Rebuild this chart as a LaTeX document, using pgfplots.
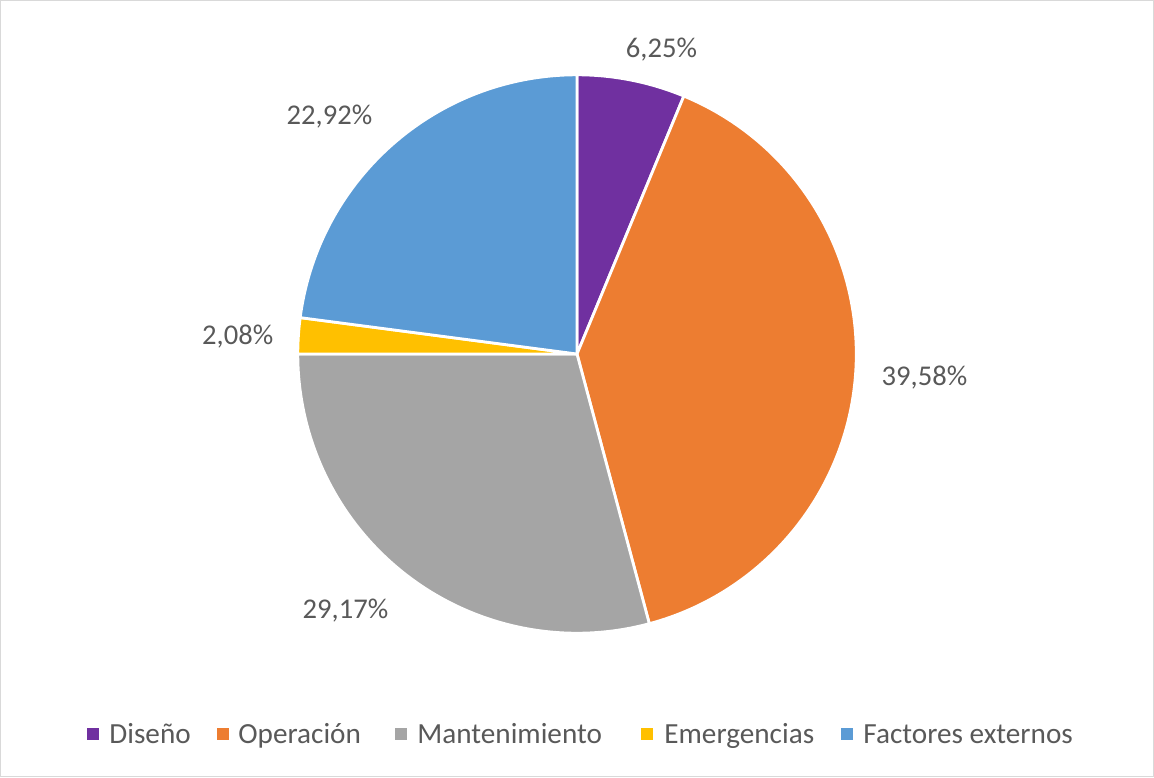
\documentclass[border=0pt]{standalone}
\usepackage{pgfplots}
\pgfplotsset{compat=1.18}
\usepackage{pgfplotstable}
\usepackage{fontspec}
\setmainfont{Carlito}
\definecolor{cDis}{HTML}{7030A0}
\definecolor{cOpe}{HTML}{ED7D31}
\definecolor{cMan}{HTML}{A5A5A5}
\definecolor{cEme}{HTML}{FFC000}
\definecolor{cFac}{HTML}{5B9BD5}
\definecolor{txt}{HTML}{595959}
\definecolor{framec}{HTML}{D9D9D9}

\pgfplotstableread[col sep=comma]{
name,value,color,lx,ly,label
Diseño,6.25,cDis,661.5,57,{6,25\%}
Operación,39.58,cOpe,924.5,385.7,{39,58\%}
Mantenimiento,29.17,cMan,345.5,618.3,{29,17\%}
Emergencias,2.08,cEme,237.7,344.3,{2,08\%}
Factores externos,22.92,cFac,329.5,124.3,{22,92\%}
}\piedata

\begin{document}
\begin{tikzpicture}
\begin{axis}[scale only axis, width=577pt, height=388.5pt,
  xmin=0, xmax=1154, ymin=0, ymax=777, y dir=reverse,
  hide axis, clip=false]
\addplot[draw=none, forget plot] coordinates {(0,0) (1154,777)};
\draw[framec, line width=0.6pt] (axis cs:0.6,0.6) rectangle (axis cs:1153.4,776.4);
\pgfmathsetmacro\angstart{90}
\foreach \i in {0,...,4} {
  \pgfplotstablegetelem{\i}{value}\of\piedata \let\val\pgfplotsretval
  \pgfplotstablegetelem{\i}{color}\of\piedata \let\col\pgfplotsretval
  \pgfplotstablegetelem{\i}{lx}\of\piedata \let\lx\pgfplotsretval
  \pgfplotstablegetelem{\i}{ly}\of\piedata \let\ly\pgfplotsretval
  \pgfplotstablegetelem{\i}{label}\of\piedata \let\lab\pgfplotsretval
  \pgfmathsetmacro\angend{\angstart-3.6*\val}
  \edef\temp{\noexpand\fill[\col, draw=white, line width=1.4pt, line join=round]
    (axis cs:577,354) -- ++(\angstart:139.6pt)
    arc[start angle=\angstart, end angle=\angend, radius=139.6pt] -- cycle;
    \noexpand\node[txt, anchor=base, inner sep=0pt, font=\noexpand\fontsize{14.3}{17}\noexpand\selectfont]
    at (axis cs:\lx,\ly) {\expandafter\noexpand\lab};}
  \temp
  \global\let\angstart\angend
}
% legend
\foreach \c/\sx/\tx/\name in {cDis/93/109/Diseño, cOpe/222.5/238/Operación, cMan/401/417/Mantenimiento, cEme/647/664/Emergencias, cFac/847/863/Factores externos} {
  \edef\temp{\noexpand\fill[\c] (axis cs:\sx-6,728) rectangle (axis cs:\sx+6,740);
  \noexpand\node[txt, anchor=base west, inner sep=0pt, font=\noexpand\fontsize{14.6}{17}\noexpand\selectfont] at (axis cs:\tx,743) {\name};}
  \temp
}
\end{axis}
\end{tikzpicture}
\end{document}
